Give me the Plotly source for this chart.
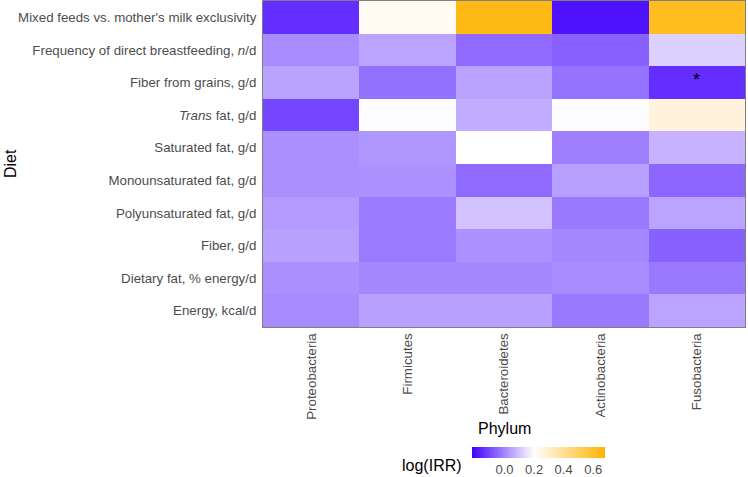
import plotly.graph_objects as go

phyla = ["Proteobacteria", "Firmicutes", "Bacteroidetes", "Actinobacteria", "Fusobacteria"]
diets = [
    "Mixed feeds vs. mother's milk exclusivity",
    "Frequency of direct breastfeeding, <i>n</i>/d",
    "Fiber from grains, g/d",
    "<i>Trans</i> fat, g/d",
    "Saturated fat, g/d",
    "Monounsaturated fat, g/d",
    "Polyunsaturated fat, g/d",
    "Fiber, g/d",
    "Dietary fat, % energy/d",
    "Energy, kcal/d",
]
# log(IRR) values, rows = diets (top to bottom), columns = phyla
log_irr = [
    [-0.144, 0.225, 0.640, -0.190, 0.620],
    [0.010, 0.050, -0.045, -0.060, 0.125],
    [0.048, -0.035, 0.048, -0.030, -0.144],
    [-0.105, 0.195, 0.063, 0.195, 0.267],
    [0.016, 0.027, 0.200, -0.010, 0.074],
    [0.015, 0.020, -0.045, 0.043, -0.052],
    [0.034, -0.019, 0.100, -0.020, 0.050],
    [0.043, -0.019, 0.020, 0.003, -0.060],
    [0.015, 0.003, 0.003, 0.010, -0.020],
    [0.008, 0.043, 0.043, -0.020, 0.050],
]
cbar_ticks = [0.0, 0.2, 0.4, 0.6]
significant = [("Fusobacteria", "Fiber from grains, g/d")]

zmin, zmid, zmax = -0.22, 0.2, 0.68
mid_frac = (zmid - zmin) / (zmax - zmin)

# plot area in pixels
L, R, T, B = 263, 745, 1, 327
W, H = R - L, B - T
FONT = "Liberation Sans"


def px_x(x):
    return (x - L) / W


def px_y(y):
    return (B - y) / H


fig = go.Figure(go.Heatmap(
    z=log_irr, x=phyla, y=diets,
    zmin=zmin, zmax=zmax,
    colorscale=[[0, "#4000ff"], [mid_frac, "#ffffff"], [1, "#ffb300"]],
    colorbar=dict(
        orientation="h", xref="paper", yref="paper",
        x=px_x(472), xanchor="left", y=px_y(447), yanchor="top",
        len=133, lenmode="pixels", thickness=11, xpad=0, ypad=0,
        outlinewidth=0, ticks="", tickvals=cbar_ticks,
        ticktext=[f"{t:.1f}" for t in cbar_ticks],
        tickfont=dict(size=13, color="#4d4d4d", family=FONT),
    ),
))

for xv, yv in significant:
    fig.add_annotation(x=xv, y=yv, text="*", showarrow=False, yshift=3,
                       font=dict(size=18, color="black", family=FONT))

fig.add_annotation(text="Diet", xref="paper", yref="paper", x=px_x(10), y=0.5,
                   textangle=-90, showarrow=False, xanchor="center", yanchor="middle",
                   font=dict(size=16, color="black", family=FONT))
fig.add_annotation(text="Phylum", xref="paper", yref="paper", x=0.5, y=px_y(428),
                   showarrow=False, yanchor="middle",
                   font=dict(size=16, color="black", family=FONT))
fig.add_annotation(text="log(IRR)", xref="paper", yref="paper", x=px_x(464), y=px_y(465),
                   showarrow=False, xanchor="right", yanchor="middle",
                   font=dict(size=16, color="black", family=FONT))

fig.update_layout(
    width=748, height=477,
    margin=dict(l=L, r=748 - R, t=T, b=477 - B, autoexpand=False),
    paper_bgcolor="white", plot_bgcolor="white",
    font=dict(family=FONT, size=13, color="#4d4d4d"),
    xaxis=dict(tickangle=-90, showgrid=False, zeroline=False, ticks="",
               showline=True, linecolor="#7f7f7f", linewidth=1, mirror=True,
               automargin=False, tickfont=dict(size=13.3, color="#4d4d4d")),
    yaxis=dict(autorange="reversed", showgrid=False, zeroline=False, ticks="",
               showline=True, linecolor="#7f7f7f", linewidth=1, mirror=True,
               automargin=False, ticklabelstandoff=3,
               tickfont=dict(size=13.3, color="#4d4d4d")),
)

fig.write_html("out.html", config={"displayModeBar": False},
               post_script="document.body.style.margin='0';")
